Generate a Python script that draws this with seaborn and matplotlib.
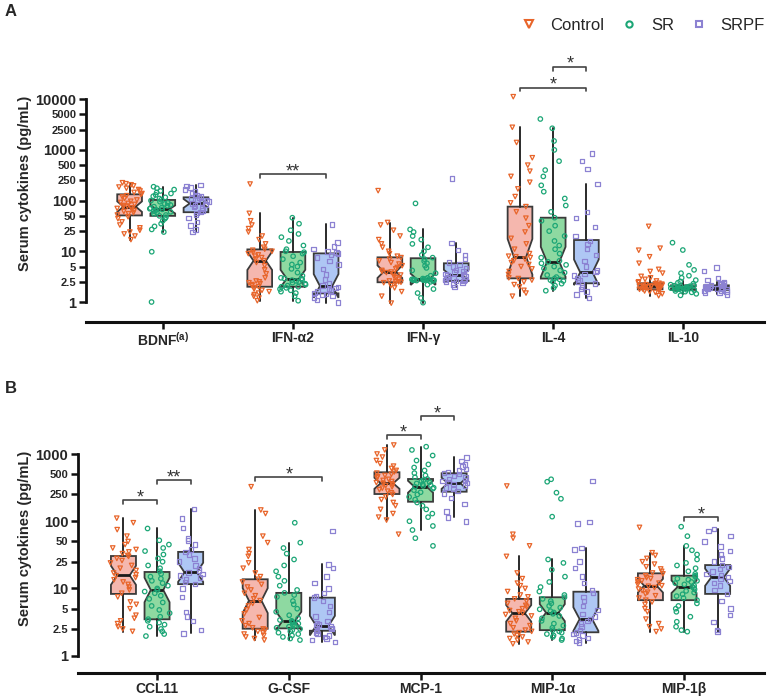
import numpy as np
import pandas as pd
import matplotlib
matplotlib.use("Agg")
import matplotlib.pyplot as plt
from matplotlib.lines import Line2D
import seaborn as sns

GROUPS = ["Control", "SR", "SRPF"]
MARKER_COLORS = ["#E8652A", "#1CA676", "#8C82D2"]
BOX_COLORS = ["#F5B7AE", "#8ED9A1", "#AEC7F4"]
MARKERS = ["v", "o", "s"]

A_LABELS = [r"BDNF$^{\mathbf{(a)}}$", "IFN-α2", "IFN-γ", "IL-4", "IL-10"]
B_LABELS = ["CCL11", "G-CSF", "MCP-1", "MIP-1α", "MIP-1β"]

A_TICKS = [1, 2.5, 5, 10, 25, 50, 100, 250, 500, 1000, 2500, 5000, 10000]
B_TICKS = [1, 2.5, 5, 10, 25, 50, 100, 250, 500, 1000]

# ---- panel A points (pg/mL) ----
BDNF = {
    "Control": [17, 20, 22, 24, 26, 29, 33, 38, 44, 48, 52, 55, 58, 61, 64, 67, 70, 72, 75, 77,
                80, 84, 88, 92, 97, 103, 110, 118, 125, 132, 138, 145, 155, 165, 175, 185, 195, 205, 215, 225],
    "SR": [1.0, 9.8, 24, 27, 31, 35, 40, 44, 47, 50, 52, 55, 58, 60, 62, 64, 66, 67, 69, 71,
           73, 76, 79, 82, 86, 90, 95, 100, 104, 110, 116, 122, 130, 138, 145, 155, 165, 175, 188],
    "SRPF": [24, 27, 32, 38, 45, 52, 57, 60, 64, 70, 75, 80, 84, 88, 92, 96, 100, 105,
             110, 114, 120, 130, 140, 150, 165, 180, 195, 203],
}
IFNA2 = {
    "Control": [1.06, 1.2, 1.3, 1.4, 1.5, 1.6, 1.7, 1.8, 1.9, 2.0, 2.1, 2.2, 2.3, 2.4, 2.5, 2.6, 3.0, 3.6, 4.3, 5.2,
                6.0, 6.5, 7.0, 7.5, 8.0, 8.5, 9.0, 9.5, 10, 10.5, 11, 12, 14, 17, 20, 24, 28, 33, 40, 56, 212],
    "SR": [1.06, 1.3, 1.5, 1.6, 1.7, 1.8, 1.9, 2.0, 2.0, 2.1, 2.2, 2.3, 2.4, 2.5, 2.6, 2.7, 2.8, 2.9, 2.9, 3.0,
           3.3, 3.8, 4.5, 5.0, 5.5, 6.0, 7.0, 8.0, 9.0, 9.6, 10, 11, 13, 16, 19, 22, 26, 35, 46],
    "SRPF": [0.97, 1.1, 1.2, 1.3, 1.4, 1.45, 1.5, 1.6, 1.7, 1.8, 1.9, 2.0, 2.1, 2.3,
             2.8, 3.5, 4.5, 5.5, 6.5, 7.5, 8.5, 9.0, 9.5, 10, 11, 12.5, 15, 34],
}
IFNG = {
    "Control": [0.95, 1.3, 1.6, 1.9, 2.1, 2.3, 2.4, 2.45, 2.5, 2.5, 2.6, 2.8, 3.0, 3.2, 3.4, 3.6, 3.8, 3.9, 4.0, 4.2,
                4.5, 4.8, 5.2, 5.6, 6.0, 6.5, 7.0, 7.5, 8.0, 9.0, 10, 12, 14, 17, 20, 26, 33, 37, 157],
    "SR": [0.97, 1.2, 1.5, 1.8, 2.2, 2.5, 2.6, 2.65, 2.7, 2.7, 2.7, 2.7, 2.7, 2.75, 2.75, 2.8, 2.8, 2.8, 2.85, 2.9,
           3.0, 3.3, 3.7, 4.2, 4.7, 5.2, 5.8, 6.4, 7.0, 7.5, 8.5, 10, 12, 14, 17, 20, 24, 27, 88],
    "SRPF": [2.0, 2.2, 2.4, 2.5, 2.6, 2.6, 2.7, 2.8, 2.9, 3.0, 3.1, 3.2, 3.3, 3.4,
             3.5, 3.6, 3.8, 4.0, 4.3, 4.6, 5.0, 5.5, 6.0, 7.0, 8.5, 10.5, 14.4, 275],
}
IL4 = {
    "Control": [1.3, 1.5, 1.7, 2.0, 2.2, 2.5, 2.7, 2.9, 3.0, 3.5, 4.0, 4.5, 5.0, 5.5, 6.0, 6.5, 7.0, 7.5, 7.8, 8.0,
                9.0, 11, 14, 18, 24, 32, 45, 60, 76, 90, 120, 170, 230, 300, 380, 500, 700, 1400, 2790, 11200],
    "SR": [1.67, 1.9, 2.1, 2.3, 2.5, 2.6, 2.7, 2.8, 2.9, 3.1, 3.4, 3.8, 4.2, 4.6, 5.0, 5.4, 5.8, 6.2, 6.5, 7.5,
           9.0, 11, 13, 16, 20, 25, 32, 40, 46, 60, 80, 110, 150, 200, 300, 400, 600, 1000, 1500, 2670, 4070],
    "SRPF": [1.2, 1.4, 1.6, 1.8, 2.0, 2.2, 2.3, 2.5, 2.7, 3.0, 3.3, 3.6, 3.9, 4.2,
             5.0, 6.5, 8.5, 11, 14, 16, 20, 30, 45, 60, 212, 420, 600, 850],
}
IL10 = {
    "Control": [1.33, 1.45, 1.55, 1.6, 1.65, 1.7, 1.75, 1.78, 1.8, 1.85, 1.9, 1.92, 1.95, 1.98, 2.0, 2.02, 2.05, 2.07,
                2.1, 2.12, 2.15, 2.18, 2.2, 2.25, 2.3, 2.34, 2.4, 2.5, 2.6, 2.8, 3.0, 3.2, 3.7, 4.0, 4.4, 5.8, 7.8,
                10.5, 11.5, 31],
    "SR": [1.35, 1.45, 1.55, 1.6, 1.65, 1.7, 1.72, 1.75, 1.78, 1.8, 1.82, 1.85, 1.88, 1.9, 1.92, 1.93, 1.95, 1.98,
           2.0, 2.02, 2.05, 2.08, 2.1, 2.13, 2.2, 2.3, 2.4, 2.55, 2.7, 3.0, 3.3, 3.7, 4.3, 5.4, 10.6, 14.8],
    "SRPF": [1.4, 1.5, 1.55, 1.6, 1.65, 1.7, 1.75, 1.8, 1.85, 1.88, 1.9, 1.92, 1.95, 2.0,
             2.05, 2.1, 2.15, 2.2, 2.3, 2.4, 2.5, 2.7, 3.0, 4.1, 4.75],
}

# ---- panel B points (pg/mL) ----
CCL11 = {
    "Control": [2.3, 2.5, 2.7, 3.0, 3.3, 3.6, 4.0, 5.0, 5.8, 6.3, 7.5, 8.5, 9.5, 10.5, 11.5, 12.5, 13.5, 14.5, 15.5,
                16, 17, 18.5, 20, 22, 24, 26, 28, 30, 31, 33, 35, 38, 40, 45, 50, 60, 75, 95, 111],
    "SR": [1.96, 2.1, 2.3, 2.5, 2.7, 2.9, 3.1, 3.3, 3.5, 3.8, 4.3, 4.8, 5.5, 6.2, 7.0, 7.8, 8.5, 9.0, 9.5, 10,
           11, 12, 13, 14, 15, 16.5, 18, 20, 22, 25, 28, 32, 36, 40, 45, 52, 78],
    "SRPF": [2.15, 2.4, 3.3, 3.8, 4.5, 7.5, 10, 11.6, 12.5, 13.5, 14.5, 15.5, 16.5, 17.4, 18.5, 20, 22, 25,
             28, 32, 35, 38, 45, 52, 55, 80, 110, 152],
}
GCSF = {
    "Control": [1.71, 1.8, 1.9, 2.0, 2.1, 2.2, 2.3, 2.4, 2.5, 2.6, 2.8, 3.0, 3.3, 3.7, 4.2, 4.8, 5.5, 6.0, 6.6, 7.0,
                7.8, 8.5, 9.5, 10.5, 11.5, 12.5, 13.7, 15, 17, 20, 24, 30, 33, 38, 48, 60, 130, 147, 326],
    "SR": [1.71, 1.8, 1.9, 2.0, 2.1, 2.2, 2.3, 2.4, 2.5, 2.6, 2.7, 2.8, 2.9, 3.0, 3.1, 3.2, 3.3, 3.4, 3.6, 4.0,
           4.5, 5.0, 5.8, 6.5, 7.5, 8.0, 8.6, 9.5, 11, 13, 15, 18, 22, 27, 33, 40, 48, 95],
    "SRPF": [1.6, 1.7, 1.8, 1.9, 2.0, 2.1, 2.2, 2.35, 2.5, 2.6, 2.7, 2.8, 2.9, 3.0,
             3.3, 3.8, 4.5, 5.5, 6.5, 7.3, 7.8, 8.5, 10, 12, 15, 20, 22.9, 72],
}
MCP1 = {
    "Control": [64, 104, 115, 130, 150, 170, 190, 210, 230, 250, 265, 280, 295, 310, 325, 340, 350, 360, 367, 375,
                390, 405, 420, 440, 460, 480, 500, 520, 540, 570, 610, 660, 720, 800, 900, 1000, 1150, 1360],
    "SR": [43, 56, 74, 85, 100, 115, 130, 150, 170, 190, 210, 230, 250, 270, 290, 305, 315, 326, 335, 345,
           355, 365, 380, 395, 410, 425, 450, 480, 520, 570, 630, 700, 800, 950, 1150, 1285],
    "SRPF": [99, 114, 140, 180, 220, 260, 280, 300, 320, 340, 355, 367, 380, 395, 410, 425, 445, 470,
             500, 520, 540, 570, 600, 650, 700, 780, 893],
}
MIP1A = {
    "Control": [1.5, 1.6, 1.7, 1.8, 1.9, 2.0, 2.1, 2.2, 2.3, 2.4, 2.6, 2.8, 3.0, 3.3, 3.6, 3.9, 4.1, 4.3, 4.5, 4.7,
                5.0, 5.3, 5.6, 6.0, 6.5, 7.0, 7.5, 8.0, 9.0, 10, 11, 12, 14, 17, 30, 43, 56, 64, 334],
    "SR": [1.71, 1.8, 1.9, 2.0, 2.1, 2.2, 2.3, 2.4, 2.6, 2.8, 3.0, 3.3, 3.6, 3.9, 4.2, 4.4, 4.6, 4.9, 5.2, 5.5,
           6.0, 6.5, 7.0, 7.4, 8.0, 9.0, 10.5, 12.5, 15, 19, 24, 27, 117, 216, 266, 387, 421],
    "SRPF": [1.56, 1.65, 1.75, 1.85, 2.0, 2.1, 2.23, 2.4, 2.7, 3.0, 3.3, 3.5, 3.8, 4.2,
             4.8, 5.5, 6.5, 7.5, 8.5, 9.5, 12, 15, 20, 25, 38, 40, 93, 97, 397],
}
MIP1B = {
    "Control": [2.28, 2.5, 2.7, 3.0, 3.5, 4.5, 5.0, 5.8, 6.3, 6.7, 7.2, 7.8, 8.3, 8.8, 9.3, 9.8, 10.3, 10.8, 11, 11.5,
                12, 12.5, 13, 13.5, 14, 14.5, 15.5, 16.5, 17, 18, 19.5, 21, 23, 25, 28, 31, 34, 81],
    "SR": [2.28, 2.4, 2.7, 3.2, 3.8, 4.5, 5.0, 5.5, 6.0, 6.7, 7.2, 7.7, 8.2, 8.7, 9.2, 9.7, 10.2, 10.6, 11, 11.5,
           12, 12.5, 13, 13.5, 14, 15, 15.5, 16.5, 18, 20, 22, 24, 27, 32, 37, 43, 60, 83],
    "SRPF": [2.28, 2.4, 3.2, 4.0, 5.0, 6.5, 8.3, 9.5, 11, 12, 13, 14, 14.7, 15.5, 16.5, 18, 19.5, 21, 22.3,
             25, 28, 32, 36, 42, 50, 60, 72, 76],
}

# ---- box statistics: [cytokine][group] ----
A_Q1 = [[51, 50, 59], [2.0, 2.0, 1.48], [2.45, 2.63, 2.6], [2.93, 2.9, 2.34], [1.78, 1.73, 1.73]]
A_MED = [[76, 67, 88], [6.5, 2.9, 2.07], [3.96, 2.8, 3.4], [7.8, 6.2, 3.85], [2.07, 1.92, 1.92]]
A_Q3 = [[133, 103, 116], [10.9, 9.7, 9.1], [7.6, 7.3, 5.8], [76, 46, 16.7], [2.34, 2.13, 2.13]]
A_WLO = [[17, 24, 24], [1.06, 1.06, 0.97], [0.95, 0.97, 2.0], [1.3, 1.67, 1.2], [1.33, 1.45, 1.45]]
A_WHI = [[225, 188, 203], [56, 46, 34], [36.7, 27, 14.4], [2790, 2670, 212], [3.2, 2.6, 2.5]]

B_Q1 = [[8.3, 3.48, 11.6], [2.52, 2.55, 2.35], [254, 195, 275], [2.28, 2.4, 2.23], [6.7, 6.7, 8.3]]
B_MED = [[15.7, 9.5, 17.4], [6.6, 3.3, 2.8], [367, 326, 367], [4.27, 4.37, 3.5], [11, 10.6, 14.7]]
B_Q3 = [[30.4, 17.6, 35], [13.7, 8.6, 7.3], [535, 425, 517], [7.0, 7.4, 8.95], [16.8, 15.5, 22.3]]
B_WLO = [[2.28, 1.96, 2.15], [1.71, 1.71, 1.6], [104, 74, 114], [1.5, 1.71, 1.56], [2.28, 2.28, 2.28]]
B_WHI = [[111, 78.5, 152], [147, 48, 22.9], [1360, 1285, 893], [30, 27, 40], [34, 43, 76]]

# significance brackets: (cytokine, group a, group b, height, label)
A_SIG = [(1, 0, 2, 335, "**"), (3, 0, 2, 16900, "*"), (3, 1, 2, 43700, "*")]
B_SIG = [(0, 0, 1, 207, "*"), (0, 1, 2, 410, "**"), (1, 0, 2, 451, "*"),
         (2, 0, 1, 1918, "*"), (2, 1, 2, 3675, "*"), (4, 1, 2, 114, "*")]

DODGE = 0.255
BOX_W = 0.19

sns.set_style("ticks")
plt.rcParams["font.family"] = ["Liberation Sans", "DejaVu Sans"]
plt.rcParams["mathtext.fontset"] = "custom"
plt.rcParams["mathtext.bf"] = "Liberation Sans:bold"
plt.rcParams["mathtext.rm"] = "Liberation Sans"
np.random.seed(3)


def long_table(cyto_dicts):
    rows = []
    for i, d in enumerate(cyto_dicts):
        for j, g in enumerate(GROUPS):
            for v in d[g]:
                rows.append((i, g, i + (j - 1) * DODGE, v))
    return pd.DataFrame(rows, columns=["cyto", "group", "pos", "value"])


def draw_panel(ax, df, q1, med, q3, wlo, whi, labels, ticks, sigs, tick_fac):
    stats, pos, cols = [], [], []
    for i in range(len(labels)):
        for j, g in enumerate(GROUPS):
            n = (df["cyto"].eq(i) & df["group"].eq(g)).sum()
            lm, lq1, lq3 = np.log10(med[i][j]), np.log10(q1[i][j]), np.log10(q3[i][j])
            half = 1.57 * (lq3 - lq1) / np.sqrt(n)
            stats.append(dict(med=med[i][j], q1=q1[i][j], q3=q3[i][j],
                              whislo=wlo[i][j], whishi=whi[i][j],
                              cilo=10 ** (lm - half), cihi=10 ** (lm + half), fliers=[]))
            pos.append(i + (j - 1) * DODGE)
            cols.append(BOX_COLORS[j])
    bp = ax.bxp(stats, positions=pos, widths=BOX_W, shownotches=True, showfliers=False,
                showcaps=False, patch_artist=True, manage_ticks=False, zorder=2,
                boxprops=dict(edgecolor="#3a3a3a", linewidth=1.3),
                medianprops=dict(color="#1a1a1a", linewidth=2.0),
                whiskerprops=dict(color="#2a2a2a", linewidth=1.4))
    for patch, c in zip(bp["boxes"], cols):
        patch.set_facecolor(c)

    for j, g in enumerate(GROUPS):
        sub = df[df["group"] == g]
        n_before = len(ax.collections)
        sns.stripplot(data=sub, x="pos", y="value", native_scale=True, orient="x",
                      jitter=0.1, marker=MARKERS[j], color=MARKER_COLORS[j],
                      size=3.2, linewidth=0.9, ax=ax, zorder=3)
        for coll in ax.collections[n_before:]:
            coll.set_facecolor("none")
            coll.set_edgecolor(MARKER_COLORS[j])
            coll.set_linewidth(0.9)

    ax.set_yscale("log")
    ax.yaxis.set_minor_locator(matplotlib.ticker.NullLocator())
    ax.set_yticks(ticks)
    ax.set_yticklabels([f"{t:g}" for t in ticks])
    for t, lab in zip(ticks, ax.get_yticklabels()):
        major = np.isclose(np.log10(t), round(np.log10(t)))
        lab.set_fontsize(10.5 if major else 8)
        lab.set_fontweight("bold")
    ax.set_xticks(range(len(labels)))
    ax.set_xticklabels(labels, fontsize=10, fontweight="bold")
    ax.tick_params(axis="y", length=5, width=1.8, pad=2, color="#111111")
    ax.tick_params(axis="x", length=5, width=1.8, pad=1.5, color="#111111")
    ax.spines["top"].set_visible(False)
    ax.spines["right"].set_visible(False)
    ax.spines["left"].set_bounds(ticks[0], ticks[-1])
    ax.spines["left"].set_linewidth(2.0)
    ax.spines["bottom"].set_linewidth(2.2)
    ax.spines["left"].set_color("#111111")
    ax.spines["bottom"].set_color("#111111")
    ax.set_xlabel("")
    ax.set_ylabel("Serum cytokines (pg/mL)", fontsize=10.5, fontweight="bold")

    for i, a, b, y, txt in sigs:
        xa, xb = i + (a - 1) * DODGE, i + (b - 1) * DODGE
        ax.plot([xa, xa, xb, xb], [y * tick_fac, y, y, y * tick_fac], color="#444444",
                lw=1.2, clip_on=False, zorder=4)
        ax.annotate(txt, xy=((xa + xb) / 2, y), xytext=(0, -1.5), textcoords="offset points",
                    ha="center", va="baseline", fontsize=13, color="#333333")


fig = plt.figure(figsize=(7.67, 6.99), dpi=100)
W, H = 767, 699
axA = fig.add_axes([86 / W, (H - 321.7) / H, (764 - 86) / W, (321.7 - 40) / H])
axB = fig.add_axes([78 / W, (H - 672.7) / H, (764 - 78) / W, (672.7 - 400) / H])

dfA = long_table([BDNF, IFNA2, IFNG, IL4, IL10])
dfB = long_table([CCL11, GCSF, MCP1, MIP1A, MIP1B])

draw_panel(axA, dfA, A_Q1, A_MED, A_Q3, A_WLO, A_WHI, A_LABELS, A_TICKS, A_SIG, 0.84)
draw_panel(axB, dfB, B_Q1, B_MED, B_Q3, B_WLO, B_WHI, B_LABELS, B_TICKS, B_SIG, 0.87)

axA.set_xlim(-0.59, 4.62)
axA.set_ylim(10 ** ((302 - 321.7) / 50.7), 10 ** ((302 - 40) / 50.7))
axB.set_xlim(-0.60, 4.607)
axB.set_ylim(10 ** ((655.7 - 672.7) / 67.23), 10 ** ((655.7 - 400) / 67.23))
axA.yaxis.set_label_coords(-0.08, 0.492)
axB.yaxis.set_label_coords(-0.067, 0.494)

fig.text(5 / W, 1 - 4 / H, "A", fontsize=12, fontweight="bold", ha="left", va="top")
fig.text(5 / W, 1 - 381 / H, "B", fontsize=12, fontweight="bold", ha="left", va="top")

handles = [Line2D([], [], linestyle="none", marker=m, markersize=ms, markerfacecolor="none",
                  markeredgecolor=c, markeredgewidth=1.5)
           for m, c, ms in zip(MARKERS, MARKER_COLORS, [6, 4.5, 4.5])]
fig.legend(handles, GROUPS, loc="center right", bbox_to_anchor=(765 / W, 1 - 25 / H), ncol=3,
           frameon=False, fontsize=12, handlelength=1.0, handletextpad=0.8, columnspacing=1.0,
           borderpad=0, borderaxespad=0)

fig.savefig("out.png", dpi=100)
